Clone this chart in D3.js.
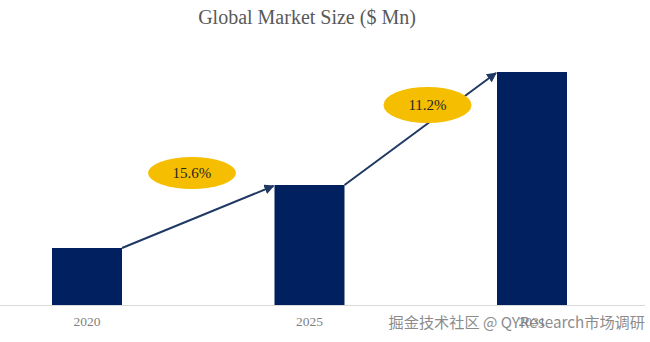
<!DOCTYPE html>
<html>
<head>
<meta charset="utf-8">
<script src="https://cdn.jsdelivr.net/npm/d3@7/dist/d3.min.js"></script>
<style>
  html, body { margin: 0; padding: 0; background: #fff; }
  svg { display: block; }
</style>
</head>
<body>
<svg id="chart" width="650" height="342"></svg>
<script>
// Market size by year (relative units) and growth rates between milestones
const years = ["2020", "2025", "2031"];
const marketSize = [57, 120, 233];
const cagrLabels = ["15.6%", "11.2%"];

const svg = d3.select("#chart");
const W = 650, H = 342;
const baseY = 305;

const x = d3.scaleBand()
  .domain(years)
  .range([0, 619])
  .paddingInner(0.6854)
  .paddingOuter(0.2337);

const y = d3.scaleLinear()
  .domain([0, 250])
  .range([baseY, baseY - 250]);

// Title
svg.append("text")
  .attr("x", 307).attr("y", 24)
  .attr("text-anchor", "middle")
  .attr("font-family", "'Liberation Serif', 'Times New Roman', serif")
  .attr("font-size", 20)
  .attr("fill", "#595959")
  .text("Global Market Size ($ Mn)");

// Baseline
svg.append("line")
  .attr("x1", 0).attr("x2", 645)
  .attr("y1", baseY + 0.5).attr("y2", baseY + 0.5)
  .attr("stroke", "#d9d9d9").attr("stroke-width", 1);

// Bars
svg.selectAll("rect.bar")
  .data(years.map((d, i) => ({ year: d, value: marketSize[i] })))
  .join("rect")
  .attr("class", "bar")
  .attr("x", d => x(d.year))
  .attr("y", d => y(d.value))
  .attr("width", x.bandwidth())
  .attr("height", d => baseY - y(d.value))
  .attr("fill", "#002060");

// Year labels
const xAxis = d3.axisBottom(x).tickSize(0).tickPadding(11);
const gx = svg.append("g")
  .attr("transform", `translate(0,${baseY})`)
  .call(xAxis);
gx.select(".domain").remove();
gx.selectAll("text")
  .attr("font-family", "'Liberation Serif', 'Times New Roman', serif")
  .attr("font-size", 13.5)
  .attr("fill", "#7f7f7f");

// Arrow marker
const defs = svg.append("defs");
defs.append("marker")
  .attr("id", "arrow")
  .attr("viewBox", "0 0 10 10")
  .attr("refX", 9).attr("refY", 5)
  .attr("markerWidth", 5).attr("markerHeight", 5)
  .attr("orient", "auto")
  .append("path")
  .attr("d", "M0,0 L10,5 L0,10 z")
  .attr("fill", "#1f3864");

// Growth arrows between bar tops, with CAGR badges
const badgePos = [{ dx: 70, cy: 173 }, { dx: 83, cy: 105 }];
for (let i = 0; i < years.length - 1; i++) {
  const x1 = x(years[i]) + x.bandwidth();
  const y1 = y(marketSize[i]);
  const x2 = x(years[i + 1]);
  const y2 = y(marketSize[i + 1]);
  svg.append("line")
    .attr("x1", x1).attr("y1", y1)
    .attr("x2", x2 - 1).attr("y2", y2 + 1)
    .attr("stroke", "#1f3864")
    .attr("stroke-width", 2)
    .attr("marker-end", "url(#arrow)");

  const cx = x1 + badgePos[i].dx;
  const cy = badgePos[i].cy;
  svg.append("ellipse")
    .attr("cx", cx).attr("cy", cy)
    .attr("rx", 44).attr("ry", i === 0 ? 16 : 18)
    .attr("fill", "#f5be00");
  svg.append("text")
    .attr("x", cx).attr("y", cy + 5)
    .attr("text-anchor", "middle")
    .attr("font-family", "'Liberation Serif', 'Times New Roman', serif")
    .attr("font-size", 15)
    .attr("fill", "#262626")
    .text(cagrLabels[i]);
}

// Source credit
svg.append("text")
  .attr("x", 645).attr("y", 328)
  .attr("text-anchor", "end")
  .attr("font-family", "'Noto Sans CJK SC', 'Noto Sans', sans-serif")
  .attr("font-size", 15.2)
  .attr("fill", "#7f7f7f")
  .attr("opacity", 0.9)
  .text("掘金技术社区 @ QYResearch市场调研");
</script>
</body>
</html>
